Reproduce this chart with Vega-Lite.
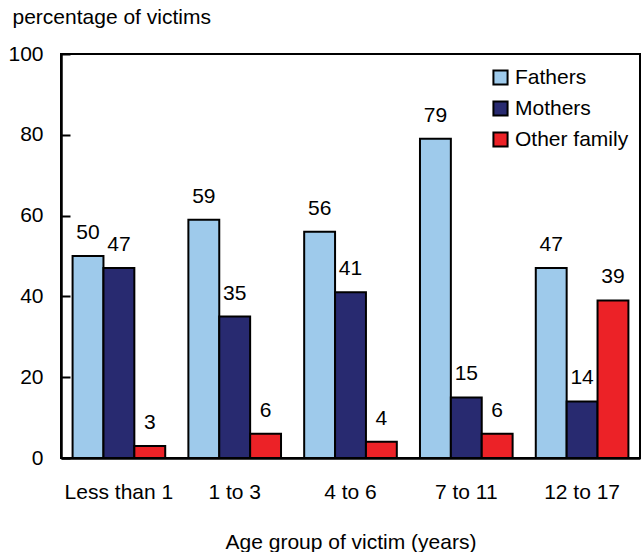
{
  "$schema": "https://vega.github.io/schema/vega-lite/v6.json",
  "width": 579,
  "height": 404,
  "autosize": "none",
  "padding": {"left": 61, "top": 54, "right": 4, "bottom": 94},
  "config": {
    "font": "Liberation Sans",
    "view": {"stroke": "black", "strokeWidth": 2},
    "axis": {"domainColor": "black", "domainWidth": 2.5, "tickColor": "black", "labelColor": "black", "titleColor": "black", "labelFontSize": 21, "titleFontSize": 21, "titleFontWeight": "normal", "grid": false}
  },
  "data": {
    "values": [
      {"age": "Less than 1", "who": "Fathers", "pct": 50},
      {"age": "Less than 1", "who": "Mothers", "pct": 47},
      {"age": "Less than 1", "who": "Other family", "pct": 3},
      {"age": "1 to 3", "who": "Fathers", "pct": 59},
      {"age": "1 to 3", "who": "Mothers", "pct": 35},
      {"age": "1 to 3", "who": "Other family", "pct": 6},
      {"age": "4 to 6", "who": "Fathers", "pct": 56},
      {"age": "4 to 6", "who": "Mothers", "pct": 41},
      {"age": "4 to 6", "who": "Other family", "pct": 4},
      {"age": "7 to 11", "who": "Fathers", "pct": 79},
      {"age": "7 to 11", "who": "Mothers", "pct": 15},
      {"age": "7 to 11", "who": "Other family", "pct": 6},
      {"age": "12 to 17", "who": "Fathers", "pct": 47},
      {"age": "12 to 17", "who": "Mothers", "pct": 14},
      {"age": "12 to 17", "who": "Other family", "pct": 39}
    ]
  },
  "encoding": {
    "x": {
      "field": "age", "type": "nominal",
      "sort": ["Less than 1", "1 to 3", "4 to 6", "7 to 11", "12 to 17"],
      "scale": {"paddingInner": 0.2, "paddingOuter": 0.1},
      "axis": {"title": "Age group of victim (years)", "labelAngle": 0, "ticks": false, "labelPadding": 23, "titleY": 90, "titleBaseline": "alphabetic"}
    },
    "xOffset": {"field": "who", "type": "nominal", "sort": ["Fathers", "Mothers", "Other family"]},
    "y": {
      "field": "pct", "type": "quantitative",
      "scale": {"domain": [0, 100]},
      "axis": {"title": "percentage of victims", "titleAngle": 0, "titleAlign": "left", "titleX": -49, "titleY": -31, "titleBaseline": "alphabetic", "values": [0, 20, 40, 60, 80, 100], "tickSize": -9, "tickWidth": 2, "labelPadding": 27}
    }
  },
  "layer": [
    {
      "mark": {"type": "bar", "stroke": "black", "strokeWidth": 2},
      "encoding": {
        "color": {
          "field": "who", "type": "nominal",
          "scale": {"domain": ["Fathers", "Mothers", "Other family"], "range": ["#9ECAEB", "#282A70", "#EC2227"]},
          "legend": {"title": null, "orient": "none", "legendX": 429, "legendY": 13, "labelFontSize": 21, "symbolType": "square", "symbolSize": 200, "symbolStrokeColor": "black", "symbolStrokeWidth": 2, "rowPadding": 8, "labelOffset": 4, "labelColor": "black"}
        }
      }
    },
    {
      "mark": {"type": "text", "fontSize": 21, "dy": -17, "baseline": "alphabetic", "color": "black"},
      "encoding": {"text": {"field": "pct", "type": "quantitative"}}
    }
  ]
}
